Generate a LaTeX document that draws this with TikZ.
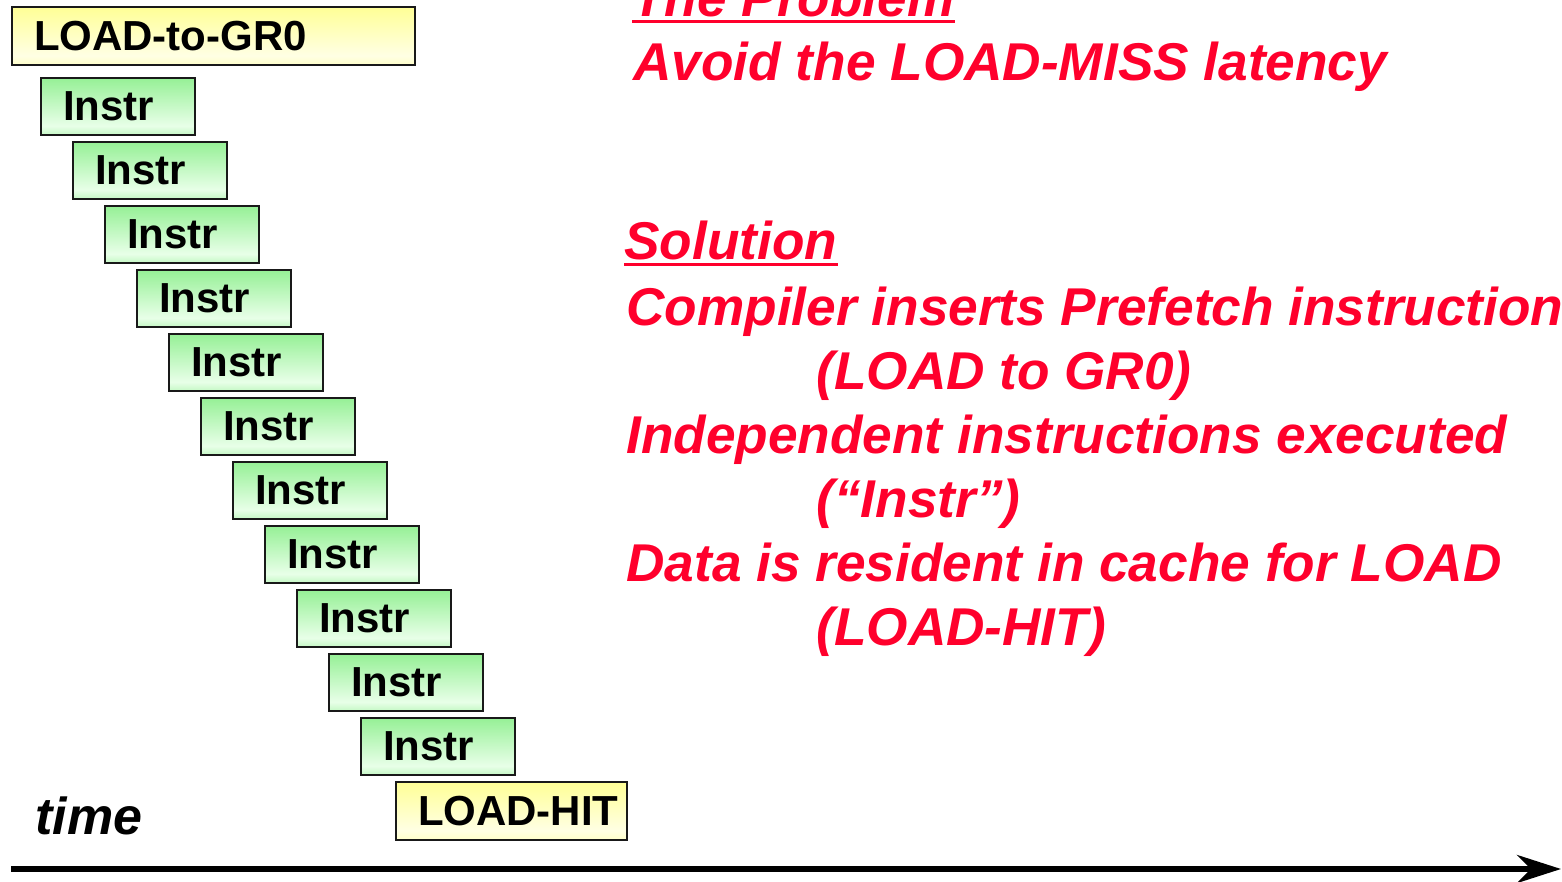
\documentclass[tikz,border=0pt]{standalone}
\usepackage{fontspec}
\setmainfont{Liberation Sans}
\usetikzlibrary{arrows.meta}

\definecolor{slidered}{RGB}{255,0,44}
\definecolor{gTop}{RGB}{150,240,150}
\definecolor{gLow}{RGB}{232,255,232}
\definecolor{gBot}{RGB}{196,248,196}
\definecolor{yTop}{RGB}{255,255,150}
\definecolor{yLow}{RGB}{255,255,228}
\definecolor{yBot}{RGB}{255,255,200}

% vertical fills: strong tint at the top, pale band near the bottom
\pgfdeclareverticalshading{instrfill}{100bp}{%
  color(0bp)=(gBot); color(25bp)=(gBot); color(33bp)=(gLow);
  color(75bp)=(gTop); color(100bp)=(gTop)}
\pgfdeclareverticalshading{loadfill}{100bp}{%
  color(0bp)=(yBot); color(25bp)=(yBot); color(33bp)=(yLow);
  color(75bp)=(yTop); color(100bp)=(yTop)}

\tikzset{
  boxbase/.style={rectangle, draw=black!90, line width=1pt, anchor=north west,
    align=left, inner ysep=0pt, inner xsep=11pt,
    font=\fontsize{21}{25}\selectfont\bfseries},
  instrbox/.style={boxbase, shading=instrfill, minimum width=77pt,
    text width=55pt, minimum height=28.5pt},
  loadbox/.style={boxbase, shading=loadfill, minimum height=29pt},
  redtext/.style={anchor=base west, inner sep=0pt, text=slidered,
    font=\fontsize{26.6}{32}\selectfont\bfseries\itshape},
  redrule/.style={draw=slidered, line width=1.5pt},
  timeaxis/.style={line width=3pt, -{Stealth[length=22pt, width=14pt, inset=7pt]}}
}

\begin{document}
\begin{tikzpicture}[x=0.5pt, y=-0.5pt]
  \useasboundingbox (0,0) rectangle (1562,882);

  % issue timeline: prefetch, independent work, then the load
  \node[loadbox, minimum width=201.5pt, text width=179.5pt] (pre) at (11,6) {\mbox{LOAD-to-GR0}};
  \foreach \i in {1,...,11} {
    \node[instrbox] (i\i) at ({40+32*(\i-1)}, {77+64*(\i-1)}) {Instr};
  }
  \node[loadbox, minimum width=115.5pt, text width=93.5pt] (hit) at (395,781) {\mbox{LOAD-HIT}};

  % time axis
  \node[anchor=base west, inner sep=0pt,
        font=\fontsize{26}{30}\selectfont\bfseries\itshape] (time) at (35,834) {time};
  \coordinate (t0) at (11,869);
  \coordinate (t1) at (1561,869);
  \draw[timeaxis] (t0) -- (t1);

  % explanation
  \node[redtext] (prob) at (632,17) {The Problem};
  \draw[redrule] ([yshift=-2.5pt]prob.base west) -- ([yshift=-2.5pt]prob.base east);
  \node[redtext] (avoid) at (633,81) {Avoid the LOAD-MISS latency};

  \node[redtext] (sol) at (624,259) {Solution};
  \draw[redrule] ([yshift=-2.5pt]sol.base west) -- ([yshift=-2.5pt]sol.base east);
  \node[redtext] (l1) at (626,325) {Compiler inserts Prefetch instruction};
  \node[redtext] (l2) at (816,389) {(LOAD to GR0)};
  \node[redtext] (l3) at (626,453) {Independent instructions executed};
  \node[redtext] (l4) at (816,517) {(“Instr”)};
  \node[redtext] (l5) at (626,581) {Data is resident in cache for LOAD};
  \node[redtext] (l6) at (816,645) {(LOAD-HIT)};
\end{tikzpicture}
\end{document}
